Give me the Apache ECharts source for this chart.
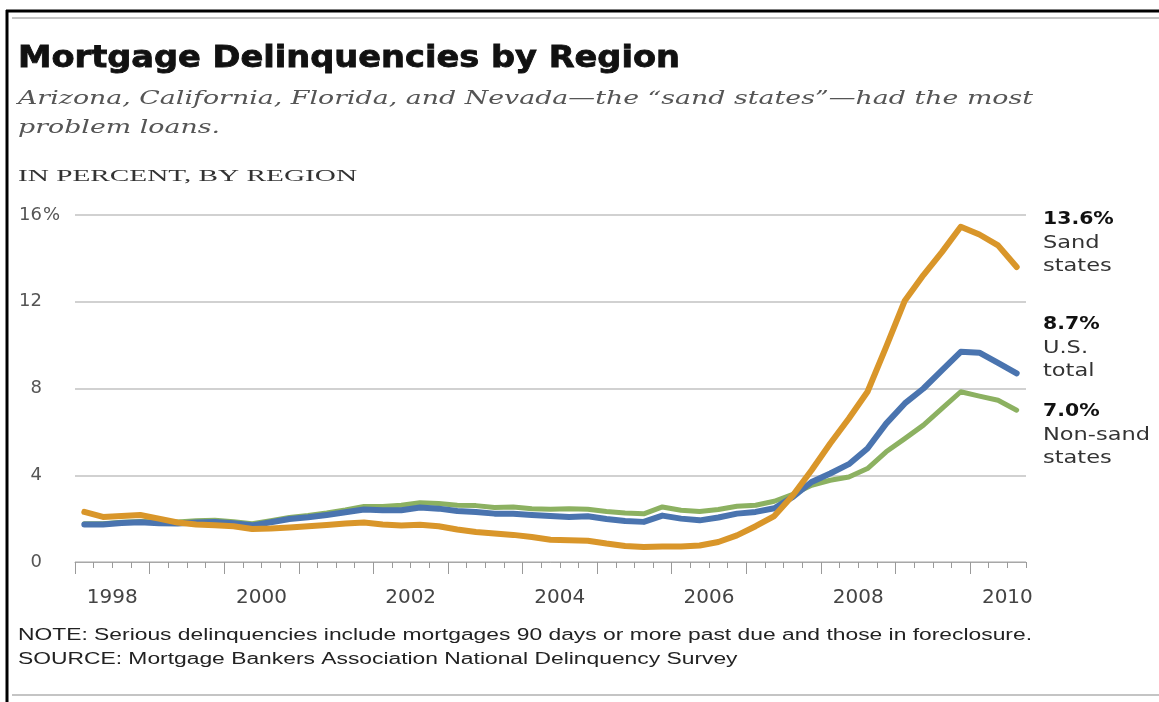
<!DOCTYPE html>
<html lang="en">
<head>
  <meta charset="UTF-8">
  <title>Mortgage Delinquencies by Region</title>
  <script src="https://cdn.jsdelivr.net/npm/echarts@6/dist/echarts.min.js"></script>
  <style>
    html, body { margin: 0; padding: 0; background: #fff; }
  </style>
</head>
<body>
  <div id="main" style="width:1159px;height:702px"></div>
  <script>
    // quarterly values, 1998 Q1 .. 2010 Q3 (percent, serious delinquencies)
    var startYear = 1998;
    var sandStates = [
      2.31, 2.08, 2.12, 2.17, 2.00, 1.82, 1.73, 1.69, 1.65, 1.52, 1.54, 1.59,
      1.65, 1.71, 1.77, 1.82, 1.73, 1.68, 1.72, 1.65, 1.50, 1.38, 1.31, 1.25,
      1.15, 1.03, 1.00, 0.98, 0.85, 0.74, 0.69, 0.72, 0.72, 0.76, 0.92, 1.23,
      1.65, 2.12, 3.08, 4.23, 5.46, 6.62, 7.85, 9.92, 12.05, 13.23, 14.30, 15.46,
      15.10, 14.60, 13.60
    ];
    var usTotal = [
      1.73, 1.73, 1.80, 1.83, 1.79, 1.77, 1.82, 1.85, 1.79, 1.69, 1.83, 1.98,
      2.06, 2.17, 2.29, 2.42, 2.39, 2.39, 2.51, 2.46, 2.35, 2.31, 2.23, 2.22,
      2.17, 2.12, 2.08, 2.11, 1.98, 1.89, 1.85, 2.14, 2.00, 1.92, 2.05, 2.23,
      2.31, 2.48, 3.00, 3.69, 4.08, 4.51, 5.23, 6.38, 7.31, 8.00, 8.85, 9.69,
      9.65, 9.18, 8.70
    ];
    var nonSandStates = [
      1.76, 1.76, 1.83, 1.87, 1.84, 1.84, 1.90, 1.92, 1.86, 1.76, 1.90, 2.05,
      2.14, 2.26, 2.40, 2.56, 2.56, 2.62, 2.73, 2.70, 2.62, 2.60, 2.51, 2.54,
      2.46, 2.43, 2.45, 2.43, 2.33, 2.26, 2.22, 2.54, 2.39, 2.33, 2.42, 2.57,
      2.62, 2.80, 3.12, 3.54, 3.77, 3.92, 4.31, 5.08, 5.69, 6.31, 7.08, 7.85,
      7.65, 7.46, 7.00
    ];
    var yearLabels = [1998, 2000, 2002, 2004, 2006, 2008, 2010];
    var yTicks = [0, 4, 8, 12, 16];

    var endLabels = [
      { value: '13.6%', lines: ['Sand', 'states'] },
      { value: '8.7%', lines: ['U.S.', 'total'] },
      { value: '7.0%', lines: ['Non-sand', 'states'] }
    ];

    var colors = { sand: '#D9962A', us: '#4A74AF', nonSand: '#8CB161' };

    // each quarter drawn at its middle
    function toPairs(arr) {
      return arr.map(function (v, i) { return [startYear + (i + 0.5) / 4, v]; });
    }

    var lastYear = startYear + sandStates.length / 4;
    var quarterTicks = [];
    for (var q = 0; q <= sandStates.length; q++) quarterTicks.push(startYear + q / 4);
    var yearTicks = [];
    for (var y = startYear; y < lastYear; y++) yearTicks.push(y);
    var labelPos = yearLabels.map(function (yr) { return yr + 0.5; });

    // the reference type is stretched sideways, so texts get a horizontal scale
    var measureCtx = document.createElement('canvas').getContext('2d');
    function fitScale(str, font, width) {
      measureCtx.font = font;
      return width / measureCtx.measureText(str).width;
    }

    var titleFont = 'bold 30px "DejaVu Sans"';
    var subFont = 'italic 19px "DejaVu Serif"';
    var unitFont = '17px "Liberation Serif"';
    var noteFont = '16px "Liberation Sans"';

    var title = 'Mortgage Delinquencies by Region';
    var sub1 = 'Arizona, California, Florida, and Nevada\u2014the \u201Csand states\u201D\u2014had the most';
    var sub2 = 'problem loans.';
    var unit = 'IN PERCENT, BY REGION';
    var note = 'NOTE: Serious delinquencies include mortgages 90 days or more past due and those in foreclosure.';
    var source = 'SOURCE: Mortgage Bankers Association National Delinquency Survey';

    var titleSx = fitScale(title, titleFont, 662);
    var subSx = fitScale(sub1, subFont, 1015);
    var unitSx = fitScale(unit, unitFont, 339);
    var noteSx = fitScale(note, noteFont, 1014);

    // y is the top of the text box
    function txt(str, x, y, font, sx, fill, extra) {
      var style = { text: str, font: font, fill: fill, verticalAlign: 'top' };
      if (extra) for (var k in extra) style[k] = extra[k];
      return { type: 'text', x: x, y: y, scaleX: sx, silent: true, style: style };
    }

    var graphics = [
      // frame
      { type: 'line', shape: { x1: 7, y1: 10, x2: 7, y2: 702 }, style: { stroke: '#000', lineWidth: 3 } },
      { type: 'line', shape: { x1: 6, y1: 11, x2: 1159, y2: 11 }, style: { stroke: '#000', lineWidth: 3 } },
      { type: 'line', shape: { x1: 12, y1: 18, x2: 1159, y2: 18 }, style: { stroke: '#c4c4c4', lineWidth: 2 } },
      { type: 'line', shape: { x1: 12, y1: 695, x2: 1159, y2: 695 }, style: { stroke: '#c4c4c4', lineWidth: 2 } },
      txt(title, 18, 44, titleFont, titleSx, '#111', { stroke: '#111', lineWidth: 0.8 }),
      txt(sub1, 18, 90, subFont, subSx, '#555'),
      txt(sub2, 18, 119, subFont, subSx, '#555'),
      txt(unit, 18, 168, unitFont, unitSx, '#333'),
      txt(note, 18, 628, noteFont, noteSx, '#222'),
      txt(source, 18, 652, noteFont, noteSx, '#222')
    ];

    var endTops = [211, 316, 403];
    endLabels.forEach(function (lab, k) {
      graphics.push(txt(lab.value, 1043, endTops[k], 'bold 17px "DejaVu Sans"', 1.2, '#111'));
      lab.lines.forEach(function (line, j) {
        graphics.push(txt(line, 1043, endTops[k] + 23 * (j + 1), '18px "DejaVu Sans"', 1.25, '#333'));
      });
    });

    var myChart = echarts.init(document.getElementById('main'));

    var option = {
      backgroundColor: '#fff',
      animation: false,
      grid: { left: 75, right: 133, top: 215, bottom: 140, containLabel: false },
      xAxis: [{
        type: 'value',
        min: startYear,
        max: lastYear,
        axisLine: { show: true, lineStyle: { color: '#a8a8a8', width: 1 } },
        axisTick: { show: true, customValues: quarterTicks, length: 6, lineStyle: { color: '#9a9a9a' } },
        axisLabel: {
          customValues: labelPos,
          margin: 26,
          fontFamily: 'DejaVu Sans',
          fontSize: 20,
          color: '#444',
          formatter: function (v) { return String(Math.floor(v)); }
        },
        splitLine: { show: false }
      }, {
        type: 'value',
        min: startYear,
        max: lastYear,
        position: 'bottom',
        axisLine: { show: false },
        axisTick: { show: true, customValues: yearTicks, length: 12, lineStyle: { color: '#9a9a9a' } },
        axisLabel: { show: false },
        splitLine: { show: false }
      }],
      yAxis: {
        type: 'value',
        min: 0,
        max: 16,
        interval: 4,
        axisLine: { show: false },
        axisTick: { show: false },
        splitLine: { lineStyle: { color: '#c2c2c2', width: 1.5 } },
        axisLabel: {
          customValues: yTicks,
          margin: 14,
          formatter: function (v) {
            return '{n|' + v + '}{p|' + (v === 16 ? '%' : '\u00a0') + '}';
          },
          rich: {
            n: { fontFamily: 'DejaVu Sans', fontSize: 18, color: '#555' },
            p: { fontFamily: 'DejaVu Sans', fontSize: 18, color: '#555', width: 19, align: 'left' }
          }
        }
      },
      series: [{
        name: 'Non-sand states',
        type: 'line',
        data: toPairs(nonSandStates),
        showSymbol: false,
        lineStyle: { color: colors.nonSand, width: 5, cap: 'round', join: 'round' },
        z: 2
      }, {
        name: 'U.S. total',
        type: 'line',
        data: toPairs(usTotal),
        showSymbol: false,
        lineStyle: { color: colors.us, width: 6, cap: 'round', join: 'round' },
        z: 3
      }, {
        name: 'Sand states',
        type: 'line',
        data: toPairs(sandStates),
        showSymbol: false,
        lineStyle: { color: colors.sand, width: 6, cap: 'round', join: 'round' },
        z: 4
      }],
      graphic: graphics
    };

    myChart.setOption(option);
  </script>
</body>
</html>
